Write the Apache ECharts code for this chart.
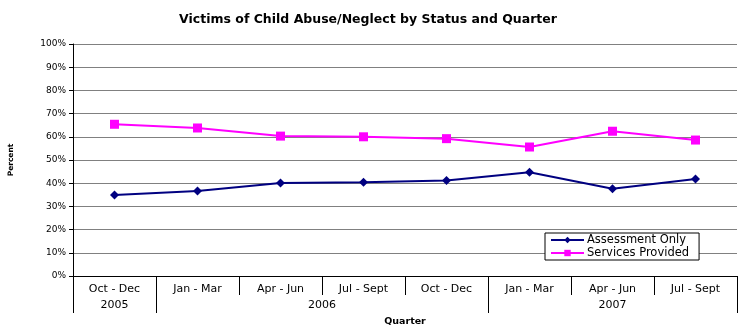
<!DOCTYPE html>
<html><head><meta charset="utf-8">
<script src="https://cdn.jsdelivr.net/npm/echarts@6/dist/echarts.min.js"></script>
<style>html,body{margin:0;padding:0;background:#fff}#c{width:738px;height:330px}</style>
</head><body><div id="c"></div>
<script>
var quarters = ['Oct - Dec','Jan - Mar','Apr - Jun','Jul - Sept','Oct - Dec','Jan - Mar','Apr - Jun','Jul - Sept'];
var years = ['2005','2006','2007'];
var yearCenters = [0.5, 3, 6.5];
var yearBounds = [0, 1, 5, 8];
var assessmentOnly = [34.9, 36.6, 40.1, 40.4, 41.2, 44.7, 37.6, 41.8];
var servicesProvided = [65.4, 63.8, 60.3, 60.0, 59.2, 55.6, 62.4, 58.6];

var F = 'DejaVu Sans, Verdana, sans-serif';
var chart = echarts.init(document.getElementById('c'));
chart.setOption({
  animation: false,
  backgroundColor: '#fff',
  title: {text: 'Victims of Child Abuse/Neglect by Status and Quarter', left: 363, textAlign: 'center', top: 8,
    textStyle: {fontFamily: F, fontSize: 12.5, fontWeight: 'bold', color: '#000'}},
  grid: {left: 73, right: 1, top: 44, bottom: 54, outerBoundsMode: 'none', containLabel: false},
  legend: {
    orient: 'vertical', left: 545, top: 233, itemWidth: 33, itemHeight: 8, itemGap: 1,
    backgroundColor: '#fff', borderColor: '#000', borderWidth: 1, padding: [1, 10, 1, 5],
    textStyle: {fontFamily: F, fontSize: 11.5, color: '#000', padding: [0, 0, 0, -2]},
    data: ['Assessment Only', 'Services Provided']
  },
  xAxis: [{
    type: 'category', data: quarters, boundaryGap: true, position: 'bottom',
    axisLine: {show: true, lineStyle: {color: '#000', width: 1}},
    axisTick: {show: true, length: 19, alignWithLabel: false, lineStyle: {color: '#000'}},
    axisLabel: {fontFamily: F, fontSize: 11, color: '#000', margin: 8, interval: 0},
    splitLine: {show: false}
  }, {
    type: 'value', min: 0, max: 8, position: 'bottom',
    name: 'Quarter', nameLocation: 'middle', nameGap: 41,
    nameTextStyle: {fontFamily: F, fontSize: 9.5, fontWeight: 'bold', color: '#000'},
    axisLine: {show: false},
    axisTick: {show: true, length: 37, customValues: yearBounds, lineStyle: {color: '#000'}},
    axisLabel: {fontFamily: F, fontSize: 11, color: '#000', margin: 24, customValues: yearCenters,
      formatter: function (v) { var i = yearCenters.indexOf(v); return i >= 0 ? years[i] : ''; }},
    splitLine: {show: false}
  }],
  yAxis: {
    type: 'value', min: 0, max: 100, interval: 10,
    name: 'Percent', nameLocation: 'middle', nameGap: 58, nameRotate: 90,
    nameTextStyle: {fontFamily: F, fontSize: 7.5, fontWeight: 'bold', color: '#000'},
    axisLine: {show: true, lineStyle: {color: '#000'}},
    axisTick: {show: true, length: 4, lineStyle: {color: '#000'}},
    axisLabel: {fontFamily: F, fontSize: 9, color: '#000', margin: 7, formatter: '{value}%'},
    splitLine: {show: true, lineStyle: {color: '#808080', width: 1}}
  },
  series: [{
    name: 'Assessment Only', type: 'line', xAxisIndex: 0, data: assessmentOnly,
    symbol: 'diamond', symbolSize: 9,
    lineStyle: {color: '#000080', width: 2}, itemStyle: {color: '#000080'}
  }, {
    name: 'Services Provided', type: 'line', xAxisIndex: 0, data: servicesProvided,
    symbol: 'rect', symbolSize: 9,
    lineStyle: {color: '#FF00FF', width: 2}, itemStyle: {color: '#FF00FF'}
  }]
});
</script></body></html>
